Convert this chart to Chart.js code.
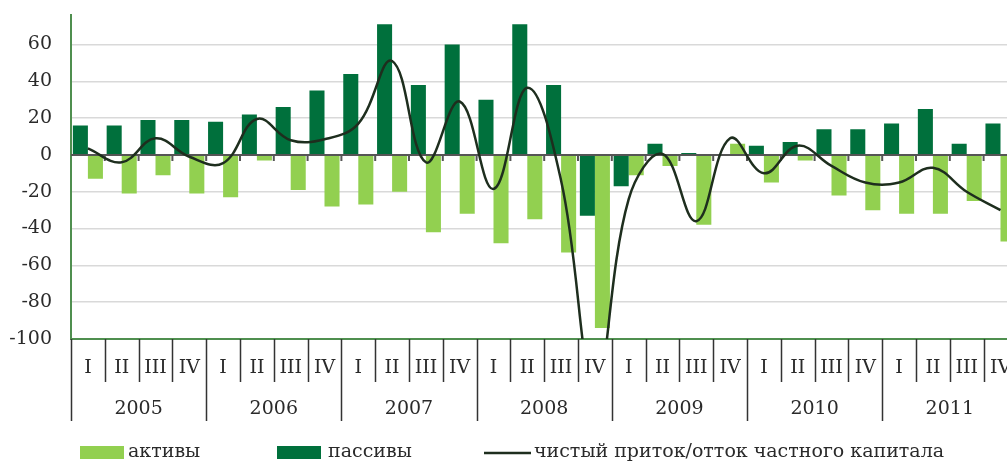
<!DOCTYPE html>
<html>
<head>
<meta charset="utf-8">
<script src="https://cdn.jsdelivr.net/npm/chart.js@4.4.1/dist/chart.umd.min.js"></script>
<style>
  html, body { margin: 0; padding: 0; background: #fff; overflow: hidden; }
  #wrap { width: 1007px; height: 463px; overflow: hidden; position: relative; }
  #chart { position: absolute; left: 0; top: 0; }
</style>
</head>
<body>
<div id="wrap"><canvas id="chart" width="1030" height="463"></canvas></div>
<script>
const quarterLabels = ['I','II','III','IV','I','II','III','IV','I','II','III','IV','I','II','III','IV',
                       'I','II','III','IV','I','II','III','IV','I','II','III','IV'];
const yearLabels = ['2005','2006','2007','2008','2009','2010','2011'];

// активы (светлые), пассивы (темные), чистый приток/отток
const aktivy = [-13, -21, -11, -21, -23, -3, -19, -28, -27, -20, -42, -32, -48, -35, -53, -94,
                -11, -6, -38, 6, -15, -3, -22, -30, -32, -32, -25, -47];
const passivy = [16, 16, 19, 19, 18, 22, 26, 35, 44, 71, 38, 60, 30, 71, 38, -33,
                 -17, 6, 1, 0.5, 5, 7, 14, 14, 17, 25, 6, 17];
const netFlow = [3.5, -4, 9, -1, -4.5, 19.5, 8, 8.5, 17, 51, -4, 29, -18.5, 36.5, -14, -127,
                 -24, 0.5, -36, 9, -10, 5, -6, -15, -15, -7, -20, -30];

const FONT = "'DejaVu Serif', 'Liberation Serif', serif";
const LIGHT = '#92d050';
const DARK = '#00703c';

const tablePlugin = {
  id: 'tablePlugin',
  afterDatasetDraw(chart, args) {
    if (args.index !== 1) return;
    const ctx = chart.ctx, area = chart.chartArea, xs = chart.scales.x;
    const y0 = chart.scales.y.getPixelForValue(0);
    const w = xs.getPixelForValue(1) - xs.getPixelForValue(0);
    ctx.save();
    ctx.strokeStyle = '#555';
    ctx.lineWidth = 2;
    ctx.beginPath();
    ctx.moveTo(area.left, y0);
    ctx.lineTo(area.right, y0);
    for (let k = 1; k <= quarterLabels.length; k++) {
      const bx = xs.getPixelForValue(k) - w / 2;
      ctx.moveTo(bx, y0);
      ctx.lineTo(bx, y0 + 6);
    }
    ctx.stroke();
    ctx.restore();
  },
  afterDraw(chart) {
    const ctx = chart.ctx, area = chart.chartArea, xs = chart.scales.x;
    const w = xs.getPixelForValue(1) - xs.getPixelForValue(0);
    ctx.save();
    ctx.strokeStyle = '#333';
    ctx.lineWidth = 1.5;
    ctx.beginPath();
    for (let k = 0; k <= quarterLabels.length; k++) {
      const bx = Math.round(xs.getPixelForValue(0) - w / 2 + k * w) + 0.5;
      ctx.moveTo(bx, area.bottom);
      ctx.lineTo(bx, area.bottom + (k % 4 === 0 ? 82 : 43));
    }
    ctx.stroke();

    ctx.fillStyle = '#2a2a2a';
    ctx.textAlign = 'center';
    ctx.textBaseline = 'middle';
    ctx.font = '19px ' + FONT;
    quarterLabels.forEach((q, i) => {
      ctx.fillText(q, xs.getPixelForValue(i), area.bottom + 29);
    });
    yearLabels.forEach((yr, j) => {
      const cx = (xs.getPixelForValue(j * 4) + xs.getPixelForValue(j * 4 + 3)) / 2;
      ctx.fillText(yr, cx, area.bottom + 70);
    });

    // легенда
    const ly = 453;
    ctx.textAlign = 'left';
    ctx.fillStyle = LIGHT;
    ctx.fillRect(80, ly - 7, 44, 13);
    ctx.fillStyle = DARK;
    ctx.fillRect(277, ly - 7, 44, 13);
    ctx.strokeStyle = '#1e2e1e';
    ctx.lineWidth = 2.5;
    ctx.beginPath();
    ctx.moveTo(484, ly);
    ctx.lineTo(531, ly);
    ctx.stroke();
    ctx.fillStyle = '#2a2a2a';
    ctx.fillText(chart.data.datasets[0].label, 128, ly - 1);
    ctx.fillText(chart.data.datasets[1].label, 328, ly - 1);
    ctx.fillText(chart.data.datasets[2].label, 534, ly - 1);
    ctx.restore();
  }
};

new Chart(document.getElementById('chart'), {
  type: 'bar',
  data: {
    labels: quarterLabels.map((q, i) => q + ' ' + yearLabels[Math.floor(i / 4)]),
    datasets: [
      {
        label: 'активы',
        data: aktivy,
        backgroundColor: LIGHT,
        order: 3,
        categoryPercentage: 0.89,
        barPercentage: 1,
      },
      {
        label: 'пассивы',
        data: passivy,
        backgroundColor: DARK,
        order: 2,
        categoryPercentage: 0.89,
        barPercentage: 1,
      },
      {
        type: 'line',
        label: 'чистый приток/отток частного капитала',
        data: netFlow,
        borderColor: '#1e2e1e',
        borderWidth: 2.5,
        pointRadius: 0,
        tension: 0.4,
        fill: false,
        clip: 0,
        order: 1,
      },
    ],
  },
  options: {
    responsive: false,
    animation: false,
    layout: { padding: { top: 15, right: 12.6, left: 0, bottom: 0 } },
    plugins: {
      legend: { display: false },
      tooltip: { enabled: false },
    },
    scales: {
      x: {
        grid: { display: false },
        ticks: { display: false },
        border: { color: '#4f8f4f', width: 2 },
        afterFit(scale) {
          scale.height = 124;
          scale.paddingLeft = 0;
          scale.paddingRight = 0;
        },
      },
      y: {
        min: -100,
        max: 76,
        afterFit(scale) {
          scale.width = 71;
          scale.paddingTop = 0;
          scale.paddingBottom = 0;
        },
        ticks: {
          stepSize: 20,
          includeBounds: false,
          padding: 19,
          color: '#2a2a2a',
          font: { family: FONT, size: 19 },
        },
        grid: {
          drawTicks: false,
          lineWidth: 1.5,
          color: (c) => (c.tick && (c.tick.value === 0 || c.tick.value === -100)) ? 'rgba(0,0,0,0)' : '#d9d9d9',
        },
        border: { color: '#4f8f4f', width: 2 },
      },
    },
  },
  plugins: [tablePlugin],
});
</script>
</body>
</html>
